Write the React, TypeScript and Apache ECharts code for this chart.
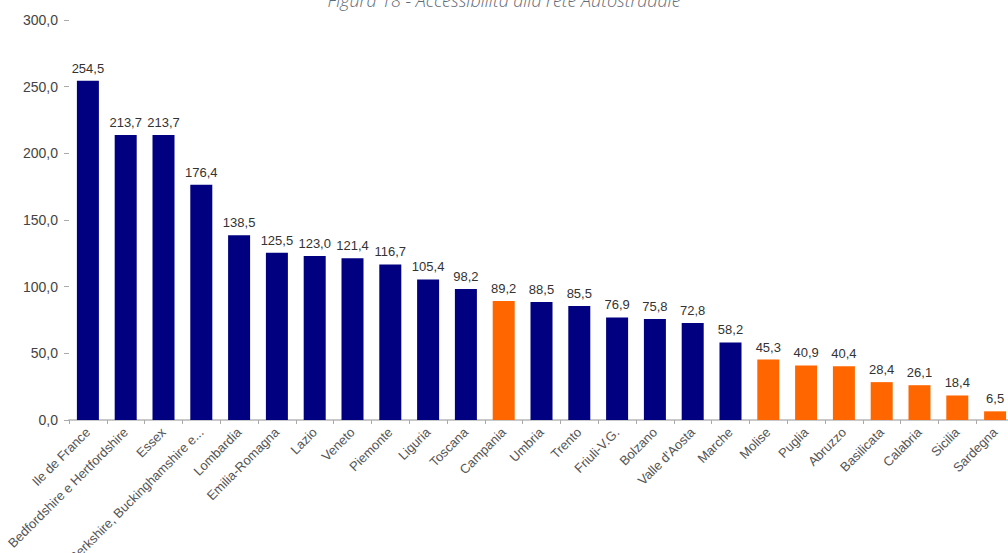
import React, { useEffect, useRef } from "react";
import * as echarts from "echarts";

const categories = [
  "Ile de France",
  "Bedfordshire e Hertfordshire",
  "Essex",
  "Berkshire, Buckinghamshire e...",
  "Lombardia",
  "Emilia-Romagna",
  "Lazio",
  "Veneto",
  "Piemonte",
  "Liguria",
  "Toscana",
  "Campania",
  "Umbria",
  "Trento",
  "Friuli-V.G.",
  "Bolzano",
  "Valle d'Aosta",
  "Marche",
  "Molise",
  "Puglia",
  "Abruzzo",
  "Basilicata",
  "Calabria",
  "Sicilia",
  "Sardegna",
];

const values = [
  254.5, 213.7, 213.7, 176.4, 138.5, 125.5, 123.0, 121.4, 116.7, 105.4, 98.2,
  89.2, 88.5, 85.5, 76.9, 75.8, 72.8, 58.2, 45.3, 40.9, 40.4, 28.4, 26.1, 18.4,
  6.5,
];

// true = Mezzogiorno (orange)
const isSouth = [
  false, false, false, false, false, false, false, false, false, false, false,
  true, false, false, false, false, false, false, true, true, true, true, true,
  true, true,
];

const yTicks = [0, 50, 100, 150, 200, 250, 300];

const titleText = "Figura 18 - Accessibilità alla rete Autostradale";

const NAVY = "#000080";
const ORANGE = "#ff6600";

const fmt = (v: number) => v.toFixed(1).replace(".", ",");

export default function App() {
  const ref = useRef<HTMLDivElement>(null);

  useEffect(() => {
    if (!ref.current) return;
    const chart = echarts.init(ref.current, null, { renderer: "svg" });
    const font = "Arial, 'Liberation Sans', sans-serif";
    chart.setOption({
      animation: false,
      backgroundColor: "#ffffff",
      textStyle: { fontFamily: font },
      graphic: [
        {
          type: "text",
          left: "center",
          top: -9,
          style: {
            text: titleText,
            fill: "#5f6b78",
            font: "italic 300 18px 'Open Sans', 'Noto Sans', sans-serif",
          },
        },
      ],
      grid: {
        left: 69,
        right: -6,
        top: 20,
        bottom: 133,
        containLabel: false,
        outerBoundsMode: "none",
      },
      xAxis: {
        type: "category",
        data: categories,
        axisLine: { show: true, lineStyle: { color: "#c8c8c8", width: 2 } },
        axisTick: {
          show: true,
          alignWithLabel: false,
          length: 4,
          lineStyle: { color: "#aaaaaa" },
        },
        axisLabel: {
          interval: 0,
          rotate: 45,
          margin: 10,
          color: "#555555",
          fontSize: 13,
          fontFamily: font,
        },
        splitLine: { show: false },
      },
      yAxis: {
        type: "value",
        min: yTicks[0],
        max: yTicks[yTicks.length - 1],
        interval: 50,
        axisLine: { show: false },
        axisTick: {
          show: true,
          length: 5,
          lineStyle: { color: "#aaaaaa" },
        },
        axisLabel: {
          color: "#444444",
          fontSize: 14,
          margin: 11,
          fontFamily: font,
          formatter: (v: number) => fmt(v),
        },
        splitLine: { show: false },
      },
      series: [
        {
          type: "bar",
          data: values.map((v, i) => ({
            value: v,
            itemStyle: { color: isSouth[i] ? ORANGE : NAVY },
          })),
          barWidth: 22,
          label: {
            show: true,
            position: "top",
            distance: 6,
            color: "#333333",
            fontSize: 13,
            fontFamily: font,
            formatter: (p: any) => fmt(p.value),
          },
        },
      ],
    });
    return () => chart.dispose();
  }, []);

  return (
    <div
      ref={ref}
      style={{
        position: "fixed",
        left: 0,
        top: 0,
        width: 1008,
        height: 553,
        background: "#fff",
      }}
    />
  );
}
